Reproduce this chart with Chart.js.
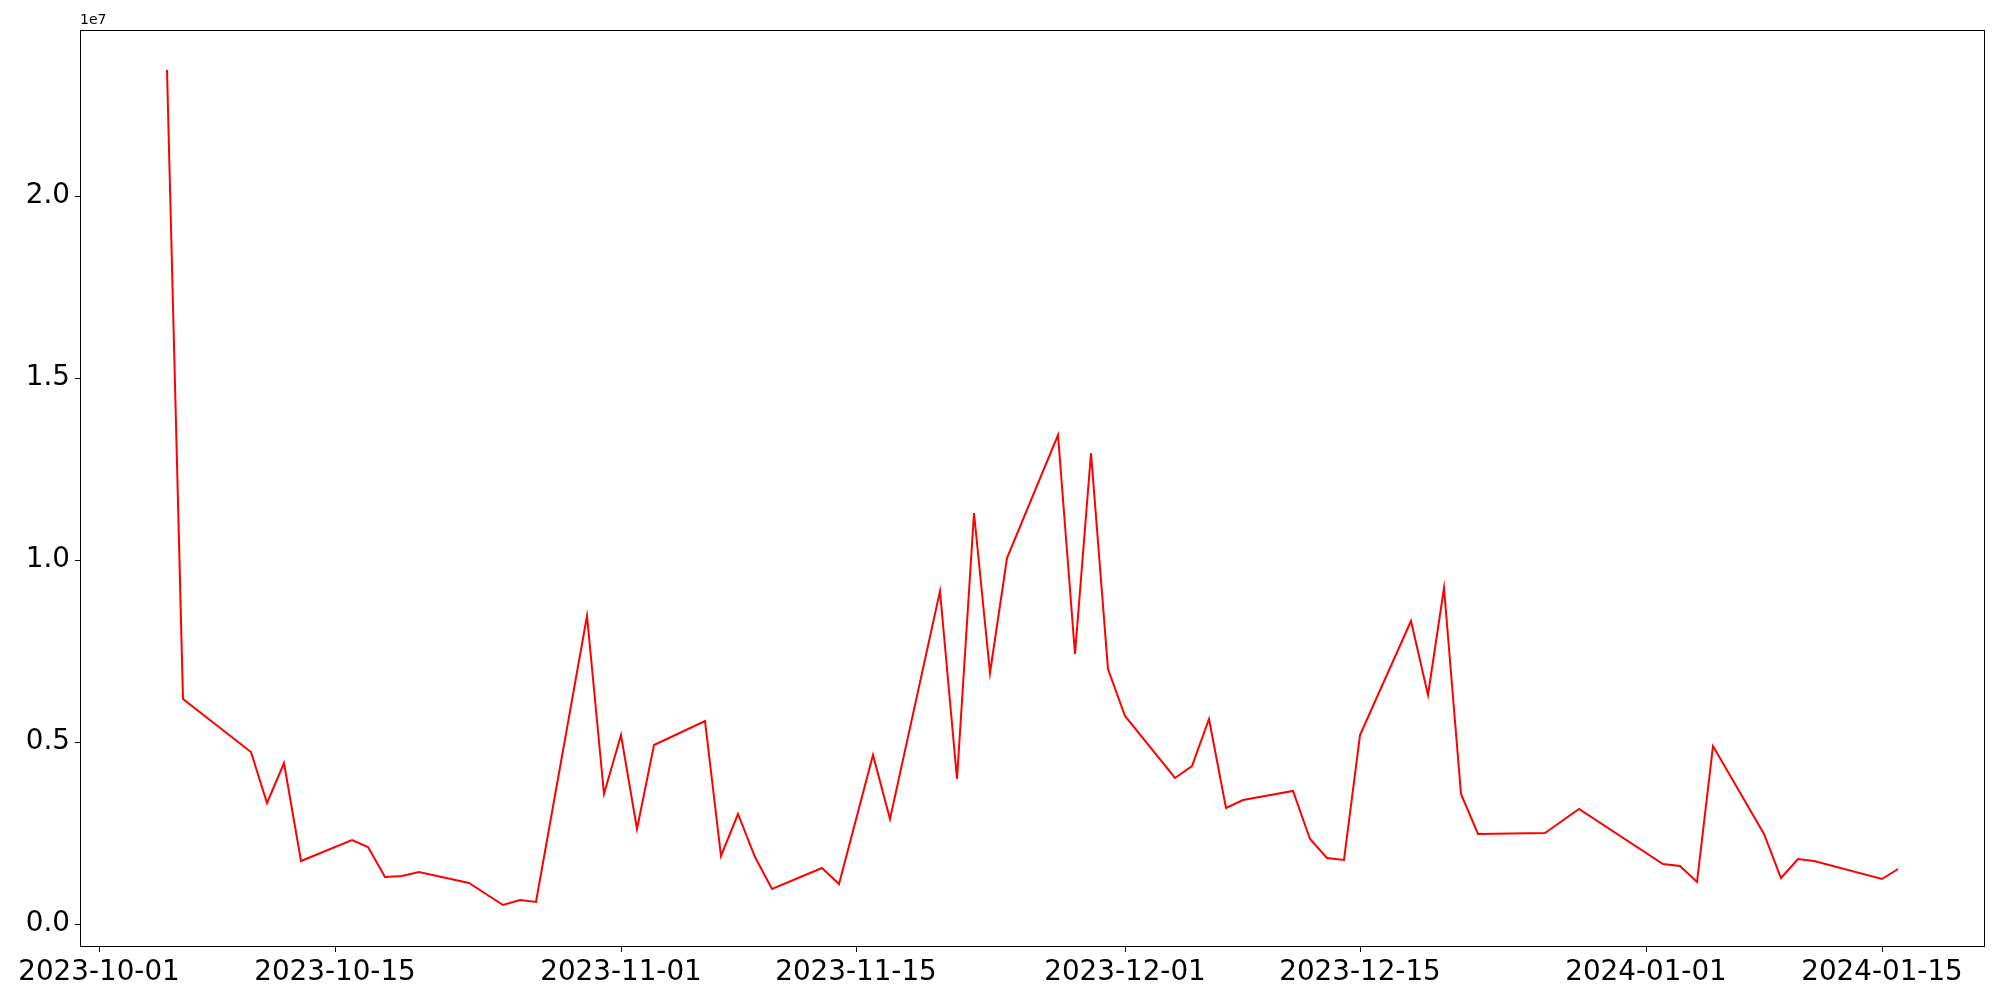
<!DOCTYPE html>
<html>
<head>
<meta charset="utf-8">
<script src="https://cdn.jsdelivr.net/npm/chart.js@4.4.1/dist/chart.umd.min.js"></script>
<style>
  body { margin: 0; background: #fff; }
  #wrap { width: 2000px; height: 1000px; }
</style>
</head>
<body>
<div id="wrap"><canvas id="myChart" width="2000" height="1000"></canvas></div>
<script>
// --- data --- //
const dates = [
  "2023-10-05", "2023-10-06", "2023-10-10", "2023-10-11", "2023-10-12", "2023-10-13",
  "2023-10-16", "2023-10-17", "2023-10-18", "2023-10-19", "2023-10-20", "2023-10-23",
  "2023-10-24", "2023-10-25", "2023-10-26", "2023-10-27", "2023-10-30", "2023-10-31",
  "2023-11-01", "2023-11-02", "2023-11-03", "2023-11-06", "2023-11-07", "2023-11-08",
  "2023-11-09", "2023-11-10", "2023-11-13", "2023-11-14", "2023-11-16", "2023-11-17",
  "2023-11-20", "2023-11-21", "2023-11-22", "2023-11-23", "2023-11-24", "2023-11-27",
  "2023-11-28", "2023-11-29", "2023-11-30", "2023-12-01", "2023-12-04", "2023-12-05",
  "2023-12-06", "2023-12-07", "2023-12-08", "2023-12-11", "2023-12-12", "2023-12-13",
  "2023-12-14", "2023-12-15", "2023-12-18", "2023-12-19", "2023-12-20", "2023-12-21",
  "2023-12-22", "2023-12-26", "2023-12-27", "2023-12-28", "2024-01-02", "2024-01-03",
  "2024-01-04", "2024-01-05", "2024-01-08", "2024-01-09", "2024-01-10", "2024-01-11",
  "2024-01-15", "2024-01-16"
];

const amounts = [
  23460000, 6190000, 4730000, 3320000, 4440000, 1740000,
  2320000, 2120000, 1300000, 1340000, 1430000, 1140000,
  820000, 520000, 670000, 620000, 8460000, 3570000,
  5200000, 2630000, 4920000, 5580000, 1870000, 3030000,
  1860000, 980000, 1560000, 1120000, 4640000, 2880000,
  9150000, 3990000, 11300000, 6900000, 10070000, 13440000,
  7420000, 12960000, 7020000, 5710000, 4010000, 4340000,
  5640000, 3190000, 3410000, 3670000, 2340000, 1820000,
  1770000, 5190000, 8320000, 6300000, 9250000, 3590000,
  2480000, 2510000, 2830000, 3170000, 1650000, 1590000,
  1150000, 4890000, 2480000, 1280000, 1780000, 1730000,
  1240000, 1530000
];

const tickDates = [
  "2023-10-01", "2023-10-15", "2023-11-01", "2023-11-15",
  "2023-12-01", "2023-12-15", "2024-01-01", "2024-01-15"
];

const yTicks = [0, 5000000, 10000000, 15000000, 20000000];

// days counted from the first tick date
const startDay = Date.parse(tickDates[0]);
function dayNum(d) {
  return (Date.parse(d) - startDay) / 86400000;
}

let points = dates.map((d, i) => ({ x: dayNum(d), y: amounts[i] }));
let tickDays = tickDates.map(dayNum);

// --- frame + offset text --- //
const framePlugin = {
  id: "frame",
  afterDraw(chart) {
    const { ctx, chartArea } = chart;
    ctx.save();
    ctx.strokeStyle = "#000";
    ctx.lineWidth = 1;
    ctx.strokeRect(chartArea.left + 0.5, chartArea.top + 0.5,
      chartArea.right - chartArea.left - 1, chartArea.bottom - chartArea.top - 1);
    ctx.fillStyle = "#000";
    ctx.font = "14px 'DejaVu Sans'";
    ctx.textAlign = "left";
    ctx.textBaseline = "bottom";
    ctx.fillText("1e7", chartArea.left, chartArea.top - 3);
    ctx.restore();
  },
};

const ctx = document.getElementById("myChart");
let myChart = new Chart(ctx, {
  type: "line",
  data: {
    datasets: [
      {
        data: points,
        borderColor: "#ff0000",
        borderWidth: 2,
        pointRadius: 0,
        fill: false,
        tension: 0,
      },
    ],
  },
  options: {
    responsive: false,
    animation: false,
    devicePixelRatio: 1,
    layout: {
      autoPadding: false,
      padding: { top: 30, right: 15, left: 0, bottom: 0 },
    },
    plugins: {
      legend: { display: false },
      tooltip: { enabled: false },
    },
    scales: {
      x: {
        type: "linear",
        min: -1.15,
        max: 112.15,
        alignToPixels: true,
        border: { display: false },
        grid: {
          drawOnChartArea: false,
          drawTicks: true,
          tickLength: 5,
          color: "#000",
          lineWidth: 1,
        },
        afterBuildTicks: (scale) => {
          scale.ticks = tickDays.map((v) => ({ value: v }));
        },
        afterFit: (scale) => {
          scale.height = 53;
        },
        ticks: {
          autoSkip: false,
          maxRotation: 0,
          padding: 4,
          color: "#000",
          font: { family: "'DejaVu Sans'", size: 27.8 },
          callback: (value, index) => tickDates[index],
        },
      },
      y: {
        type: "linear",
        min: -624000,
        max: 24569000,
        alignToPixels: true,
        border: { display: false },
        grid: {
          drawOnChartArea: false,
          drawTicks: true,
          tickLength: 5,
          color: "#000",
          lineWidth: 1,
        },
        afterBuildTicks: (scale) => {
          scale.ticks = yTicks.map((v) => ({ value: v }));
        },
        afterFit: (scale) => {
          scale.width = 80;
        },
        ticks: {
          padding: 5,
          color: "#000",
          font: { family: "'DejaVu Sans'", size: 27.8 },
          callback: (value) => (value / 1e7).toFixed(1),
        },
      },
    },
  },
  plugins: [framePlugin],
});
</script>
</body>
</html>
